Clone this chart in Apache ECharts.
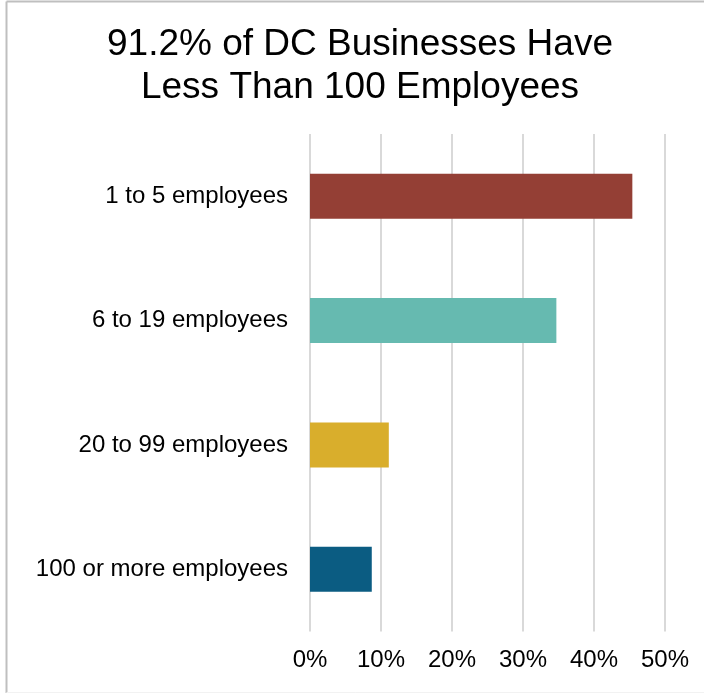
<!DOCTYPE html>
<html>
<head>
<meta charset="utf-8">
<script src="https://cdn.jsdelivr.net/npm/echarts@6/dist/echarts.min.js"></script>
<style>html,body{margin:0;padding:0;background:#fff;}#c{width:704px;height:693px;}</style>
</head>
<body>
<div id="c"></div>
<script>
const titleText = '91.2% of DC Businesses Have\nLess Than 100 Employees';
const categories = ['1 to 5 employees', '6 to 19 employees', '20 to 99 employees', '100 or more employees'];
const values = [45.4, 34.7, 11.1, 8.7];
const barColors = ['#943F35', '#66BAB0', '#D9AE2C', '#0B5C82'];
const tickLabels = ['0%', '10%', '20%', '30%', '40%', '50%'];

const chart = echarts.init(document.getElementById('c'), null, {renderer: 'canvas'});
const font = 'Liberation Sans, Arial, sans-serif';
chart.setOption({
  backgroundColor: '#fff',
  animation: false,
  title: {
    text: titleText,
    left: 355, top: 18, textAlign: 'center',
    textStyle: {fontFamily: font, fontSize: 37, fontWeight: 'normal', color: '#000', lineHeight: 43}
  },
  graphic: [
    {type: 'line', shape: {x1: 6.5, y1: 1.5, x2: 704, y2: 1.5}, style: {stroke: '#bfbfbf', lineWidth: 2}},
    {type: 'line', shape: {x1: 6.5, y1: 1.5, x2: 6.5, y2: 693}, style: {stroke: '#bfbfbf', lineWidth: 2}},
    {type: 'line', shape: {x1: 6.5, y1: 692.5, x2: 704, y2: 692.5}, style: {stroke: '#f2f2f2', lineWidth: 1}}
  ],
  grid: {left: 310, right: 39, top: 134, bottom: 61.5, containLabel: false},
  xAxis: {
    type: 'value', min: 0, max: 50, interval: 10,
    axisLine: {show: false}, axisTick: {show: false},
    splitLine: {show: true, lineStyle: {color: '#d9d9d9', width: 2}},
    axisLabel: {
      margin: 17, color: '#000', fontFamily: font, fontSize: 24,
      formatter: v => tickLabels[Math.round(v / 10)]
    }
  },
  yAxis: {
    type: 'category', data: categories, inverse: true,
    axisLine: {show: false}, axisTick: {show: false},
    axisLabel: {margin: 22, color: '#000', fontFamily: font, fontSize: 24}
  },
  series: [{
    type: 'bar',
    barWidth: 45,
    data: values.map((v, i) => ({value: v, itemStyle: {color: barColors[i]}}))
  }]
});
</script>
</body>
</html>
